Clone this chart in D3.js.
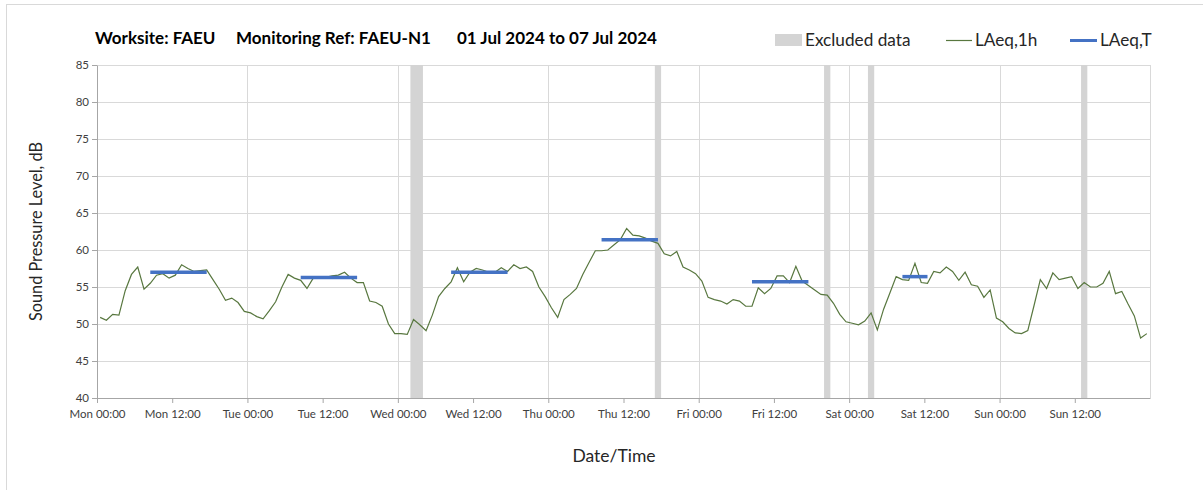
<!DOCTYPE html>
<html><head><meta charset="utf-8">
<script src="https://cdn.jsdelivr.net/npm/d3@7/dist/d3.min.js"></script>
<style>
html,body{margin:0;padding:0;background:#fff;}
svg{display:block;font-family:Lato,"Open Sans",sans-serif;}
</style></head>
<body><svg id="chart" width="1203" height="490"></svg>
<script>
// ---------- data ----------
const startTime = "2024-07-01T00:00:00";
// hourly LAeq,1h values (dB), Mon 00:00 .. Sun 23:00, plotted at mid-hour
const laeq1h = [
 50.9,50.5,51.3,51.2,54.5,56.7,57.7,54.7,55.5,56.6,56.8,56.2,56.6,58.0,57.5,57.1,57.2,57.3,56.0,54.7,53.2,53.5,52.9,51.7,
 51.5,51.0,50.7,51.8,53.0,55.0,56.7,56.2,55.9,54.8,56.2,56.4,56.3,56.5,56.6,57.0,56.2,55.6,55.6,53.1,52.9,52.4,50.0,48.7,
 48.7,48.6,50.6,49.9,49.1,51.2,53.7,54.8,55.7,57.6,55.7,57.0,57.5,57.3,57.0,57.0,57.6,57.1,58.0,57.5,57.7,57.1,55.0,53.7,
 52.2,50.9,53.3,54.0,54.8,56.7,58.3,59.9,59.9,60.0,60.7,61.4,62.9,62.0,61.9,61.6,61.2,60.9,59.5,59.2,59.8,57.7,57.3,56.8,
 55.8,53.6,53.3,53.1,52.7,53.3,53.1,52.4,52.4,54.9,54.1,54.8,56.5,56.5,55.6,57.8,55.8,55.2,54.6,54.0,53.9,52.8,51.3,50.3,
 50.1,49.9,50.4,51.5,49.2,52.0,54.2,56.4,56.0,55.9,58.2,55.6,55.5,57.1,56.9,57.7,57.1,55.9,57.0,55.3,55.1,53.6,54.6,50.8,
 50.3,49.4,48.8,48.7,49.1,52.5,56.0,54.8,56.9,56.0,56.2,56.4,54.8,55.6,55.0,55.0,55.5,57.1,54.1,54.4,52.7,51.1,48.1,48.7
];
// LAeq,T periods: start / end hour (from Mon 00:00, mid-hour points) and level
const periodStartHour = [8.5, 32.5, 56.5, 80.5, 104.5, 128.5];
const periodEndHour   = [17.5, 41.5, 65.5, 89.5, 113.5, 132.5];
const periodLevel     = [57.0, 56.3, 57.0, 61.4, 55.7, 56.4];
// Excluded data: start / end hour from Mon 00:00
const excludedStartHour = [50, 89, 116, 123, 157];
const excludedEndHour   = [52, 90, 117, 124, 158];
// axis ticks
const yTicks = [40,45,50,55,60,65,70,75,80,85];
const xTickLabels = ["Mon 00:00","Mon 12:00","Tue 00:00","Tue 12:00","Wed 00:00","Wed 12:00","Thu 00:00",
  "Thu 12:00","Fri 00:00","Fri 12:00","Sat 00:00","Sat 12:00","Sun 00:00","Sun 12:00"];
const titleParts = ["Worksite: FAEU","Monitoring Ref: FAEU-N1","01 Jul 2024 to 07 Jul 2024"];
const legendLabels = ["Excluded data","LAeq,1h","LAeq,T"];

// ---------- chart ----------
const svg = d3.select("#chart");
const t0 = new Date(startTime);
const hr = h => new Date(t0.getTime() + h*3600e3);

const x = d3.scaleTime().domain([hr(0), hr(168)]).range([97, 1150]);
const y = d3.scaleLinear().domain([40, 85]).range([398, 65]);

const colLine = "#58773f", colBlue = "#4472c4", colExcl = "#d4d4d4", colGrid = "#d9d9d9", colAxis = "#a6a6a6";

// outer border
svg.append("rect").attr("x",6.5).attr("y",4.5).attr("width",1210).attr("height",500)
  .attr("fill","none").attr("stroke","#d9d9d9");

// gridlines
const g = svg.append("g");
g.selectAll("line.h").data(yTicks.filter(v=>v>40)).join("line")
  .attr("x1",x.range()[0]).attr("x2",x.range()[1])
  .attr("y1",d=>Math.round(y(d))+0.5).attr("y2",d=>Math.round(y(d))+0.5)
  .attr("stroke",colGrid);
const dayLines = d3.range(1,8).map(d=>hr(d*24));
g.selectAll("line.v").data(dayLines).join("line")
  .attr("x1",d=>Math.round(x(d))+0.5).attr("x2",d=>Math.round(x(d))+0.5)
  .attr("y1",y(85)).attr("y2",y(40))
  .attr("stroke",colGrid);

// excluded bars
svg.append("g").selectAll("rect").data(excludedStartHour).join("rect")
  .attr("x",(d)=>x(hr(d)))
  .attr("width",(d,i)=>x(hr(excludedEndHour[i]))-x(hr(d)))
  .attr("y",y(85)).attr("height",y(40)-y(85))
  .attr("fill",colExcl);

// axes
const xAxis = d3.axisBottom(x)
  .tickValues(xTickLabels.map((_,i)=>hr(i*12)))
  .tickFormat((d,i)=>xTickLabels[i]).tickSize(5).tickSizeOuter(0);
const gx = svg.append("g").attr("transform",`translate(0,${y(40)})`).call(xAxis);
gx.select(".domain").attr("stroke",colAxis);
gx.selectAll(".tick line").attr("stroke",colAxis);
gx.selectAll(".tick text").attr("fill","#404040").attr("font-size",11.5).attr("dy","1.05em")
  .attr("font-family","Lato,sans-serif");

const yAxis = d3.axisLeft(y).tickValues(yTicks).tickSize(5).tickSizeOuter(0);
const gy = svg.append("g").attr("transform",`translate(${x.range()[0]},0)`).call(yAxis);
gy.select(".domain").attr("stroke",colAxis);
gy.selectAll(".tick line").attr("stroke",colAxis);
gy.selectAll(".tick text").attr("fill","#404040").attr("font-size",11.5).attr("x",-8)
  .attr("font-family","Lato,sans-serif");

// line LAeq,1h
const line = d3.line().x((d,i)=>x(hr(i+0.5))).y(d=>y(d));
svg.append("path").datum(laeq1h).attr("d",line)
  .attr("fill","none").attr("stroke",colLine).attr("stroke-width",1.2);

// LAeq,T segments
svg.append("g").selectAll("line").data(periodLevel).join("line")
  .attr("x1",(d,i)=>x(hr(periodStartHour[i]))).attr("x2",(d,i)=>x(hr(periodEndHour[i])))
  .attr("y1",d=>y(d)).attr("y2",d=>y(d))
  .attr("stroke",colBlue).attr("stroke-width",3.5);

// title
const titleX = [95, 236, 457];
svg.append("g").selectAll("text").data(titleParts).join("text")
  .attr("x",(d,i)=>titleX[i]).attr("y",44)
  .attr("font-size",17).attr("font-weight","bold").attr("fill","#000")
  .text(d=>d);

// axis titles
svg.append("text").attr("transform",`translate(42,${(y(40)+y(85))/2}) rotate(-90)`)
  .attr("text-anchor","middle").attr("font-size",16.3).attr("fill","#262626")
  .text("Sound Pressure Level, dB");
svg.append("text").attr("x",614).attr("y",462).attr("text-anchor","middle")
  .attr("font-size",17.5).attr("fill","#262626").text("Date/Time");

// legend
const lg = svg.append("g").attr("font-size",17.2).attr("fill","#262626");
lg.append("rect").attr("x",775).attr("y",34).attr("width",27).attr("height",12).attr("fill",colExcl);
lg.append("text").attr("x",805).attr("y",46).text(legendLabels[0]);
lg.append("line").attr("x1",946).attr("x2",972).attr("y1",40.5).attr("y2",40.5).attr("stroke",colLine).attr("stroke-width",1.2);
lg.append("text").attr("x",975).attr("y",46).text(legendLabels[1]);
lg.append("line").attr("x1",1070).attr("x2",1097).attr("y1",40.5).attr("y2",40.5).attr("stroke",colBlue).attr("stroke-width",3);
lg.append("text").attr("x",1100).attr("y",46).text(legendLabels[2]);
</script></body></html>
